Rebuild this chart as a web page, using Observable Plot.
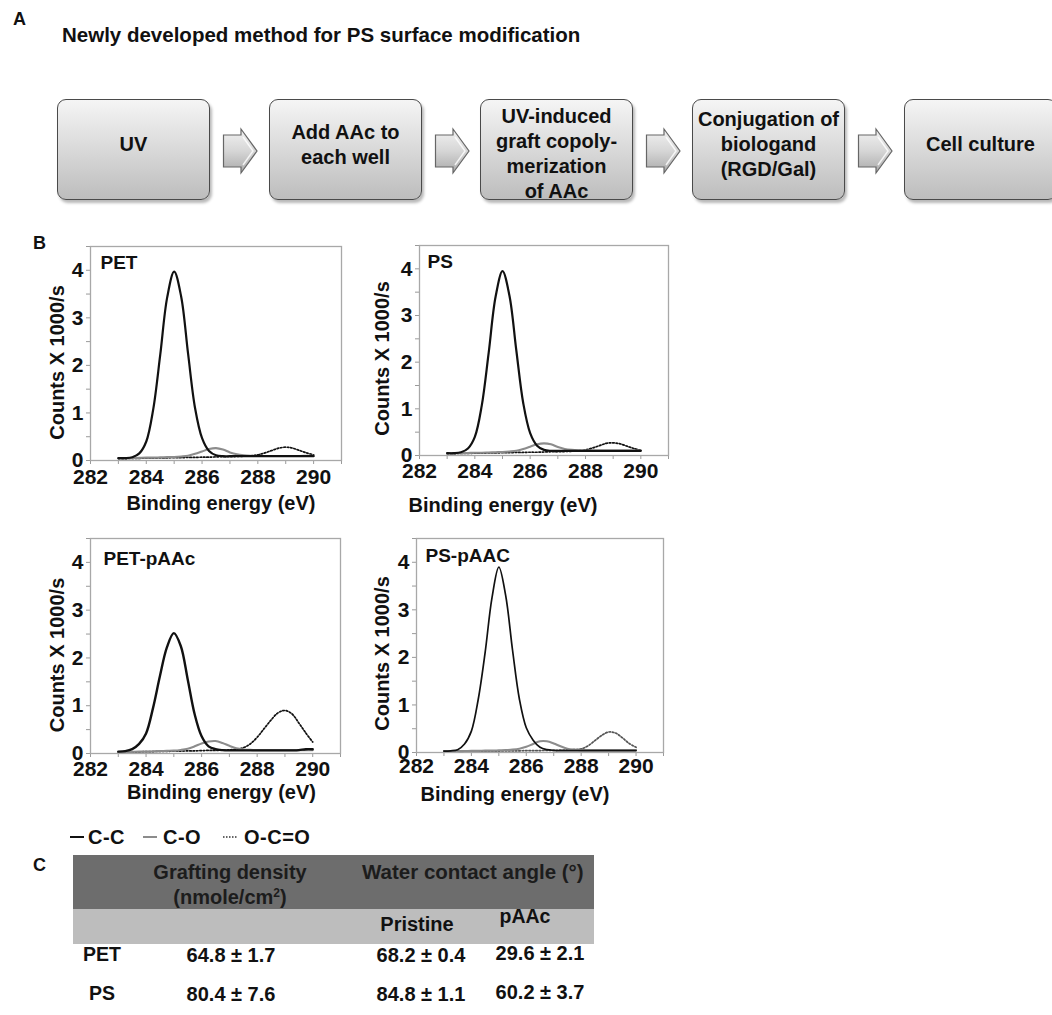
<!DOCTYPE html>
<html><head><meta charset="utf-8">
<script src="https://cdn.jsdelivr.net/npm/d3@7"></script>
<script src="https://cdn.jsdelivr.net/npm/@observablehq/plot@0.6"></script>
<style>
html,body{margin:0;padding:0;background:#fff;}
body{width:1052px;height:1015px;overflow:hidden;position:relative;font-family:"Liberation Sans",Arial,Helvetica,sans-serif;color:#111;}
.t{position:absolute;font-weight:bold;white-space:nowrap;line-height:1;}
.c{transform:translate(-50%,-50%);}
.l{transform:translate(0,-50%);}
.box{position:absolute;top:99px;height:101px;width:153px;box-sizing:border-box;border:1.5px solid #4a4a4a;border-radius:9px;background:linear-gradient(#f5f5f5,#bdbdbd);box-shadow:2px 3px 3px rgba(0,0,0,0.28);display:flex;align-items:center;justify-content:center;text-align:center;font-weight:bold;font-size:20px;line-height:25px;padding-bottom:10px;}
.arrow{position:absolute;top:127px;line-height:0;}
.arrow svg, .sw svg{display:block;}
.plot{position:absolute;line-height:0;}
.band{position:absolute;}
.plot g[aria-label="x-axis tick label"], .plot g[aria-label="y-axis tick label"]{font-size:21px !important;font-weight:bold !important;fill:#111;}
</style></head><body>
<script>
// ---------------- DATA ----------------
const steps = ["UV", "Add AAc to<br>each well", "UV-induced<br>graft copoly-<br>merization<br>of AAc", "Conjugation of<br>biologand<br>(RGD/Gal)", "Cell culture"];

const energy = [283,283.25,283.5,283.75,284,284.25,284.5,284.75,285,285.25,285.5,285.75,286,286.25,286.5,286.75,287,287.25,287.5,287.75,288,288.25,288.5,288.75,289,289.25,289.5,289.75,290];

const petCC  = [0.05,0.05,0.07,0.15,0.40,1.08,2.22,3.43,3.97,3.45,2.24,1.10,0.47,0.20,0.11,0.09,0.09,0.09,0.09,0.09,0.09,0.09,0.09,0.09,0.09,0.09,0.09,0.09,0.09];
const petCO  = [0.05,0.05,0.05,0.055,0.06,0.06,0.065,0.07,0.075,0.085,0.10,0.14,0.19,0.24,0.26,0.23,0.17,0.13,0.11,0.10,0.095,0.095,0.095,0.095,0.095,0.095,0.095,0.10,0.10];
const petOCO = [0.04,0.04,0.045,0.045,0.05,0.05,0.055,0.055,0.06,0.06,0.065,0.065,0.07,0.07,0.075,0.08,0.08,0.085,0.09,0.10,0.12,0.16,0.21,0.26,0.28,0.26,0.21,0.16,0.12];

const psCC   = [0.05,0.05,0.07,0.15,0.40,1.07,2.20,3.40,3.95,3.43,2.25,1.12,0.48,0.21,0.12,0.10,0.10,0.10,0.10,0.10,0.10,0.10,0.10,0.10,0.10,0.10,0.10,0.10,0.10];
const psCO   = [0.05,0.05,0.05,0.055,0.06,0.06,0.065,0.07,0.075,0.085,0.10,0.14,0.19,0.24,0.26,0.24,0.18,0.14,0.12,0.11,0.105,0.105,0.105,0.105,0.105,0.105,0.105,0.105,0.105];
const psOCO  = [0.04,0.04,0.045,0.045,0.05,0.05,0.055,0.055,0.06,0.06,0.065,0.065,0.07,0.07,0.075,0.08,0.08,0.085,0.09,0.10,0.12,0.16,0.21,0.26,0.27,0.25,0.20,0.15,0.11];

const petPaacCC  = [0.04,0.05,0.09,0.20,0.42,0.95,1.62,2.22,2.52,2.25,1.55,0.82,0.36,0.15,0.09,0.07,0.065,0.065,0.065,0.065,0.065,0.065,0.065,0.065,0.065,0.065,0.07,0.09,0.09];
const petPaacCO  = [0.03,0.03,0.035,0.04,0.04,0.045,0.05,0.055,0.06,0.075,0.10,0.15,0.21,0.25,0.26,0.22,0.16,0.11,0.085,0.075,0.07,0.07,0.07,0.07,0.07,0.07,0.07,0.07,0.07];
const petPaacOCO = [0.03,0.03,0.035,0.035,0.04,0.04,0.045,0.045,0.05,0.05,0.055,0.055,0.06,0.065,0.065,0.07,0.075,0.09,0.12,0.20,0.34,0.52,0.70,0.85,0.90,0.83,0.64,0.43,0.24];

const psPaacCC  = [0.03,0.035,0.06,0.18,0.45,1.12,2.10,3.25,3.90,3.30,2.15,1.12,0.52,0.26,0.11,0.06,0.045,0.04,0.04,0.04,0.04,0.04,0.04,0.04,0.04,0.04,0.04,0.04,0.04];
const psPaacCO  = [0.03,0.03,0.03,0.03,0.035,0.035,0.04,0.04,0.045,0.05,0.06,0.08,0.12,0.18,0.235,0.235,0.19,0.13,0.08,0.06,0.05,0.05,0.05,0.05,0.05,0.05,0.05,0.05,0.05];
const psPaacOCO = [0.03,0.03,0.03,0.03,0.03,0.03,0.03,0.03,0.03,0.035,0.035,0.035,0.04,0.04,0.04,0.045,0.045,0.05,0.055,0.06,0.075,0.14,0.25,0.36,0.43,0.41,0.31,0.19,0.11];

const panelNames = ["PET", "PS", "PET-pAAc", "PS-pAAC"];
const xTickLabels = [282,284,286,288,290];
const xTickMarks = [282,283,284,285,286,287,288,289,290,291];
const yTickLabels = [0,1,2,3,4];
const yTickMarks = [0,0.5,1,1.5,2,2.5,3,3.5,4,4.5];
const xTitle = "Binding energy (eV)";
const yTitle = "Counts X 1000/s";
const legendLabels = ["C-C", "C-O", "O-C=O"];

const tableRows = ["PET", "PS"];
const grafting = ["64.8 ± 1.7", "80.4 ± 7.6"];
const pristine = ["68.2 ± 0.4", "84.8 ± 1.1"];
const paac = ["29.6 ± 2.1", "60.2 ± 3.7"];

// ---------------- LAYOUT ----------------
const FONT = '"Liberation Sans", Arial, Helvetica, sans-serif';
const body = document.body;
function addText(html, x, y, size, cls, extra) {
  const d = document.createElement("div");
  d.className = "t " + cls;
  d.style.left = x + "px"; d.style.top = y + "px"; d.style.fontSize = size + "px";
  if (extra) Object.assign(d.style, extra);
  d.innerHTML = html;
  body.appendChild(d);
  return d;
}

// Panel A
addText("A", 13, 19, 18, "l");
addText("Newly developed method for PS surface modification", 62, 35, 20.5, "l");
const boxLefts = [57, 269, 480, 692, 904];
steps.forEach((s, i) => {
  const b = document.createElement("div");
  b.className = "box";
  b.style.left = boxLefts[i] + "px";
  if (i === 2) { b.style.paddingBottom = "0px"; b.style.paddingTop = "8px"; }
  b.innerHTML = "<div>" + s + "</div>";
  body.appendChild(b);
});
const arrowSvg = `<svg width="38" height="50" viewBox="0 0 38 50"><defs><linearGradient id="ag" x1="0" y1="0" x2="0" y2="1"><stop offset="0" stop-color="#f2f2f2"/><stop offset="0.5" stop-color="#d6d6d6"/><stop offset="1" stop-color="#a9a9a9"/></linearGradient></defs><path d="M1.5,8 L19,8 L19,2 L35,24 L19,46 L19,40 L1.5,40 Z" fill="url(#ag)" stroke="#666" stroke-width="1.2"/><path d="M21,10 L31,24 L21,38" fill="none" stroke="#fff" stroke-width="1.5" opacity="0.8"/></svg>`;
[222, 434, 645, 857].forEach(x => {
  const a = document.createElement("div");
  a.className = "arrow"; a.style.left = x + "px";
  a.innerHTML = arrowSvg; body.appendChild(a);
});

// Panel B
addText("B", 33, 243, 18, "l");

const panels = [
  {name: panelNames[0], cc: petCC, co: petCO, oco: petOCO, L: 90, T: 246, R: 341, B: 460, ndx: 10, ndy: 16, ydx: -33, ydy: 9, xdx: 5, xdy: 43, tp: 9, ccw: 2.2, ocoColor: "#111"},
  {name: panelNames[1], cc: psCC, co: psCO, oco: psOCO, L: 419, T: 245, R: 668, B: 455, ndx: 8, ndy: 16, ydx: -37, ydy: 8, xdx: -41, xdy: 50, tp: 8, ccw: 2.2, ocoColor: "#111"},
  {name: panelNames[2], cc: petPaacCC, co: petPaacCO, oco: petPaacOCO, L: 90, T: 538, R: 340, B: 753, ndx: 13, ndy: 20, ydx: -33, ydy: 9, xdx: 6, xdy: 39, tp: 8, ccw: 2.4, ocoColor: "#111"},
  {name: panelNames[3], cc: psPaacCC, co: psPaacCO, oco: psPaacOCO, L: 416, T: 538, R: 663, B: 752, ndx: 9, ndy: 17, ydx: -34, ydy: 8, xdx: -25, xdy: 42, tp: 6, ccw: 1.7, ocoColor: "#555"}
];

panels.forEach(p => {
  const mL = 80, mT = 12, mR = 14, mB = 72;
  const rows = (arr) => energy.map((x, i) => ({x, y: arr[i]}));
  const chart = Plot.plot({
    width: mL + (p.R - p.L) + mR,
    height: mT + (p.B - p.T) + mB,
    marginLeft: mL, marginTop: mT, marginRight: mR, marginBottom: mB,
    x: {domain: [282, 291]},
    y: {domain: [0, 4.5]},
    style: {fontFamily: FONT, fontWeight: "bold", fontSize: "21px", color: "#111", background: "transparent", overflow: "visible"},
    marks: [
      Plot.axisX({ticks: xTickMarks, tickSize: 4, tickFormat: () => "", stroke: "#9a9a9a", label: null}),
      Plot.axisX({ticks: xTickLabels, tickSize: 0, tickPadding: p.tp, tickFormat: d => String(d), label: null}),
      Plot.axisY({ticks: yTickMarks, tickSize: 4, tickFormat: () => "", stroke: "#9a9a9a", label: null}),
      Plot.axisY({ticks: yTickLabels, tickSize: 0, tickPadding: 7, tickFormat: d => String(d), label: null}),
      Plot.frame({stroke: "#a8a8a8", strokeWidth: 1.3}),
      Plot.line(rows(p.oco), {x: "x", y: "y", stroke: p.ocoColor, strokeWidth: 1.7, strokeDasharray: "1.6,1.8", curve: "catmull-rom"}),
      Plot.line(rows(p.co), {x: "x", y: "y", stroke: "#8c8c8c", strokeWidth: 2.1, curve: "catmull-rom"}),
      Plot.line(rows(p.cc), {x: "x", y: "y", stroke: "#111", strokeWidth: p.ccw, curve: "catmull-rom"}),
      Plot.text([p.name], {text: d => d, frameAnchor: "top-left", textAnchor: "start", lineAnchor: "middle", dx: p.ndx, dy: p.ndy, fontSize: 19, fontWeight: "bold", fill: "#111"}),
      Plot.text([xTitle], {text: d => d, frameAnchor: "bottom", textAnchor: "middle", lineAnchor: "middle", dx: p.xdx, dy: p.xdy, fontSize: 20, fontWeight: "bold", fill: "#111"}),
      Plot.text([yTitle], {text: d => d, frameAnchor: "left", textAnchor: "middle", lineAnchor: "middle", rotate: -90, dx: p.ydx, dy: p.ydy, fontSize: 20, fontWeight: "bold", fill: "#111"})
    ]
  });
  const wrap = document.createElement("div");
  wrap.className = "plot";
  wrap.style.left = (p.L - mL) + "px";
  wrap.style.top = (p.T - mT) + "px";
  wrap.appendChild(chart);
  body.appendChild(wrap);
});

// Legend
const legendSw = [
  {x: 70, stroke: "#111", dash: null},
  {x: 143, stroke: "#8c8c8c", dash: null},
  {x: 223, stroke: "#333", dash: "1.5,1.5"}
];
const legendTextX = [88, 163, 244];
legendSw.forEach((s, i) => {
  const d = document.createElement("div");
  d.className = "sw";
  d.style.position = "absolute"; d.style.left = s.x + "px"; d.style.top = "835px"; d.style.lineHeight = "0";
  d.innerHTML = `<svg width="14" height="4"><line x1="0" y1="2" x2="14" y2="2" stroke="${s.stroke}" stroke-width="${s.dash ? 1.5 : 2}" ${s.dash ? `stroke-dasharray="${s.dash}"` : ""}/></svg>`;
  body.appendChild(d);
  addText(legendLabels[i], legendTextX[i], 837, 20, "l", {letterSpacing: "0.5px"});
});

// Panel C table
addText("C", 33, 865, 18, "l");
const dark = document.createElement("div");
dark.className = "band";
Object.assign(dark.style, {left: "73px", top: "855px", width: "521px", height: "54px", background: "#6d6d6d"});
body.appendChild(dark);
const light = document.createElement("div");
light.className = "band";
Object.assign(light.style, {left: "73px", top: "909px", width: "521px", height: "35px", background: "#bdbdbd"});
body.appendChild(light);

addText("Grafting density", 230, 872, 20, "c", {color: "#1c1c1c"});
addText("(nmole/cm<sup style='font-size:12px;vertical-align:7px;line-height:0'>2</sup>)", 230, 897, 20, "c", {color: "#1c1c1c"});
addText("Water contact angle (°)", 362, 872, 20.5, "l", {color: "#1c1c1c"});
addText("Pristine", 417, 924, 20, "c");
addText("pAAc", 525, 917, 19.5, "c");
const rowY = [955, 994];
tableRows.forEach((r, i) => {
  addText(r, 102, rowY[i], 19.5, "c");
  addText(grafting[i], 231, rowY[i], 20, "c");
  addText(pristine[i], 421, rowY[i], 20, "c");
  addText(paac[i], 540, rowY[i] - 2, 20, "c");
});
</script>
</body></html>
